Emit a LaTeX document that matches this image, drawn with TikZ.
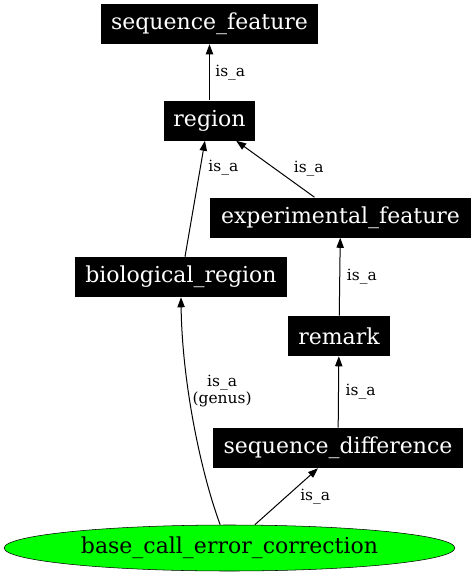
\documentclass[tikz,border=0pt]{standalone}
\usepackage{fontspec}
\setmainfont{DejaVu Serif}
\usetikzlibrary{arrows.meta,shapes.geometric}

\definecolor{termgreen}{rgb}{0,1,0}

\tikzset{
    term/.style={shape=rectangle,fill=black,text=white,inner sep=0pt,minimum height=30pt,font=\fontsize{16.5}{19}\selectfont},
    focus/.style={shape=ellipse,draw=black,fill=termgreen,inner sep=0pt,minimum width=338pt,minimum height=34.5pt,font=\fontsize{16.5}{19}\selectfont},
    isa/.style={draw=black,line width=0.75pt,-{Triangle[length=7.5pt,width=5.5pt]}},
    lbl/.style={anchor=west,inner sep=1pt,align=center,font=\fontsize{11.6}{12.5}\selectfont}
}

\begin{document}
\begin{tikzpicture}[x=0.75pt,y=-0.75pt]
        \useasboundingbox (0,0) rectangle (475,576);
        \node[term,minimum width=162.75pt](sf) at (209.5,24)  {sequence\_feature};
        \node[term,minimum width=68.25pt](rg) at (209.5,120.5)  {region};
        \node[term,minimum width=195.75pt](ef) at (340.5,217.5)  {experimental\_feature};
        \node[term,minimum width=159pt](bio) at (181,277)  {biological\_region};
        \node[term,minimum width=76.5pt](rm) at (339,336)  {remark};
        \node[term,minimum width=187.5pt](sd) at (338,448)  {sequence\_difference};
        \node[focus](bc) at (229.5,548)  {base\_call\_error\_correction};

        \draw[isa] (rg) -- (sf) node[lbl,midway,xshift=3pt] {is\_a};
        \draw[isa] ([xshift=-19.5pt]ef.north) -- ([xshift=20pt]rg.south) node[lbl,midway,xshift=12.5pt] {is\_a};
        \draw[isa] ([xshift=3pt]bio.north) -- ([xshift=-3.4pt]rg.south) node[lbl,pos=0.77,xshift=4.7pt] {is\_a};
        \draw[isa] (rm) -- (ef) node[lbl,midway,xshift=4pt] {is\_a};
        \draw[isa] (sd) -- (rm) node[lbl,midway,xshift=4pt] {is\_a};
        \draw[isa] ([xshift=19pt]bc.north) -- ([xshift=-15pt]sd.south) node[lbl,midway,xshift=9pt] {is\_a};
        \draw[isa] ([xshift=-7pt]bc.north) .. controls (200,470) and (182,380) .. (bio.south) node[lbl,pos=0.6,xshift=1pt,yshift=4.5pt] {is\_a\\(genus)};
       
    \end{tikzpicture}
\end{document}
